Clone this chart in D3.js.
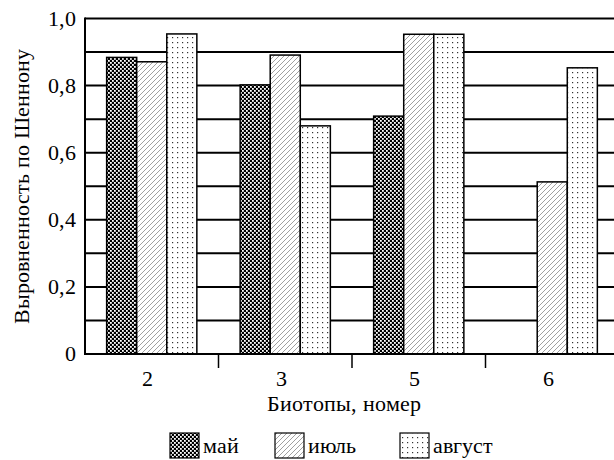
<!DOCTYPE html>
<html><head><meta charset="utf-8">
<script src="https://cdn.jsdelivr.net/npm/d3@7"></script>
<style>
@font-face{font-family:"ChartSerif";src:local("Liberation Serif"),local("LiberationSerif-Regular"),local("Tinos");}
body{margin:0;background:#fff}svg{display:block}
</style>
</head><body>
<svg id="c" width="614" height="460"></svg>
<script>
const categories = ["2","3","5","6"];
const seriesNames = ["май","июль","август"];
const may = [0.884, 0.802, 0.709, 0];
const july = [0.871, 0.891, 0.953, 0.513];
const august = [0.954, 0.680, 0.953, 0.853];
const yTicks = [0, 0.2, 0.4, 0.6, 0.8, 1.0];
const yTickLabels = ["0","0,2","0,4","0,6","0,8","1,0"];
const gridValues = [0.1,0.2,0.3,0.4,0.5,0.6,0.7,0.8,0.9,1.0];
const series = [may, july, august];

(function(){
const svg = d3.select("#c");
const FONT = "ChartSerif, 'Liberation Serif', serif";
const pLeft = 85, pRight = 619, pTop = 18.5, pBottom = 354;
const x0 = d3.scaleBand().domain(categories).range([pLeft, pRight]).padding(0);
const x1 = d3.scaleBand().domain(seriesNames).range([0, x0.bandwidth()]).paddingInner(0).paddingOuter(0.72);
const y = d3.scaleLinear().domain([0, 1]).range([pBottom, pTop]);

const defs = svg.append("defs");
const p1 = defs.append("pattern").attr("id","pMay").attr("patternUnits","userSpaceOnUse").attr("width",4).attr("height",4);
p1.append("rect").attr("width",4).attr("height",4).attr("fill","#000");
p1.append("rect").attr("x",0).attr("y",0).attr("width",1.8).attr("height",1.8).attr("fill","#fff");
p1.append("rect").attr("x",2).attr("y",2).attr("width",1.8).attr("height",1.8).attr("fill","#fff");
const p2 = defs.append("pattern").attr("id","pJul").attr("patternUnits","userSpaceOnUse").attr("width",5).attr("height",5);
p2.append("rect").attr("width",5).attr("height",5).attr("fill","#fff");
p2.append("path").attr("d","M-1,6 L6,-1 M-1,1 L1,-1 M4,6 L6,4").attr("stroke","#888").attr("stroke-width",0.8);
const p3 = defs.append("pattern").attr("id","pAug").attr("patternUnits","userSpaceOnUse").attr("width",5).attr("height",5);
p3.append("rect").attr("width",5).attr("height",5).attr("fill","#fff");
p3.append("rect").attr("x",2).attr("y",2).attr("width",1.2).attr("height",1.2).attr("fill","#333");
const fills = ["url(#pMay)","url(#pJul)","url(#pAug)"];

svg.append("g").selectAll("line").data(gridValues).join("line")
  .attr("x1", pLeft).attr("x2", 614).attr("y1", d=>y(d)).attr("y2", d=>y(d))
  .attr("stroke","#000").attr("stroke-width",2);

const g = svg.append("g");
categories.forEach((c, ci) => {
  series.forEach((s, si) => {
    const v = s[ci];
    if (v <= 0) return;
    g.append("rect")
      .attr("x", x0(c) + x1(seriesNames[si]))
      .attr("y", y(v))
      .attr("width", x1.bandwidth())
      .attr("height", y(0) - y(v))
      .attr("fill", fills[si]).attr("stroke","#000").attr("stroke-width",1.5);
  });
});

svg.append("line").attr("x1",pLeft).attr("x2",pLeft).attr("y1",pTop-1).attr("y2",pBottom+1).attr("stroke","#000").attr("stroke-width",2);
svg.append("line").attr("x1",pLeft-1).attr("x2",614).attr("y1",pBottom).attr("y2",pBottom).attr("stroke","#000").attr("stroke-width",2);

svg.append("g").selectAll("line").data(categories.slice(1)).join("line")
  .attr("x1", d=>x0(d)).attr("x2", d=>x0(d)).attr("y1", pBottom).attr("y2", pBottom+14)
  .attr("stroke","#000").attr("stroke-width",1.5);

svg.append("g").selectAll("text").data(yTicks).join("text")
  .style("font-family",FONT)
  .attr("x", 76).attr("y", d=>y(d)+7).attr("text-anchor","end").attr("font-size",22)
  .text((d,i)=>yTickLabels[i]);

svg.append("g").selectAll("text").data(categories).join("text")
  .style("font-family",FONT)
  .attr("x", d=>x0(d)+x0.bandwidth()/2 - 4).attr("y", 386).attr("text-anchor","middle").attr("font-size",22)
  .text(d=>d);

svg.append("text").style("font-family",FONT).attr("x",344).attr("y",411).attr("text-anchor","middle").attr("font-size",22).text("Биотопы, номер");
svg.append("text").style("font-family",FONT).attr("transform","translate(29,186) rotate(-90)").attr("text-anchor","middle").attr("font-size",22).text("Выровненность по Шеннону");

const legendX = [170, 275, 400];
const lg = svg.append("g");
seriesNames.forEach((n, i) => {
  lg.append("rect").attr("x", legendX[i]).attr("y", 433).attr("width", 29).attr("height", 25)
    .attr("fill", fills[i]).attr("stroke","#000").attr("stroke-width",1.2);
  lg.append("text").style("font-family",FONT).attr("x", legendX[i]+33).attr("y", 453).attr("font-size",22).text(n);
});
})();
</script>
</body></html>
